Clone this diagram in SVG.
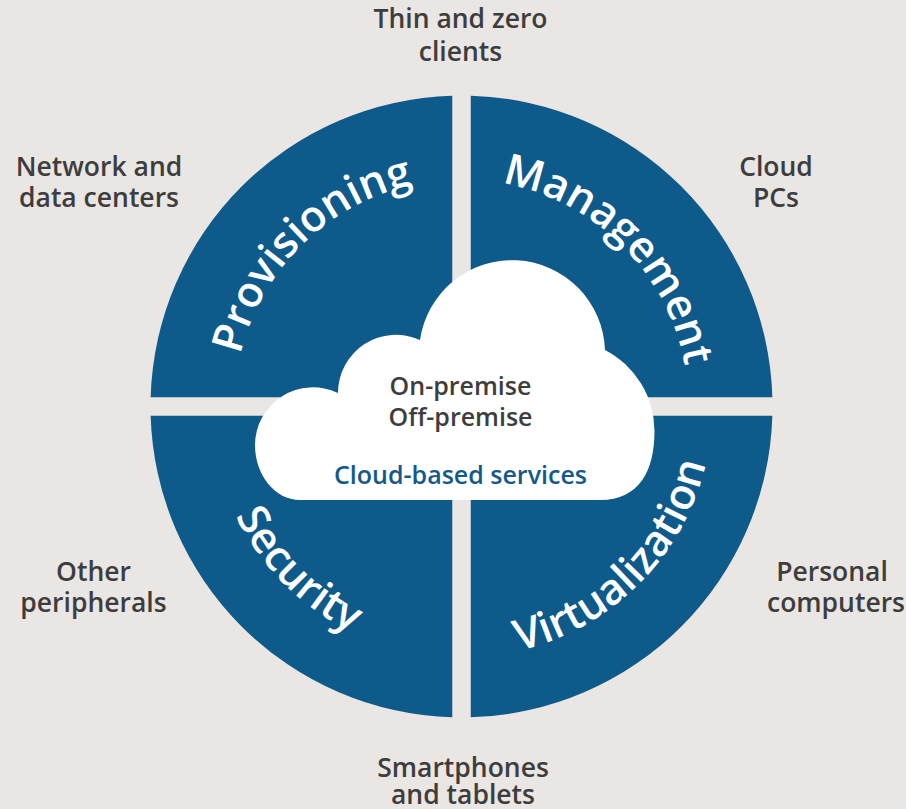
<svg xmlns="http://www.w3.org/2000/svg" width="906" height="809" viewBox="0 0 906 809">
<style>
.bg{fill:#e9e6e3}
.quad{fill:#0e5a8a}
.qlabel{font-family:"Open Sans","Liberation Sans",sans-serif;font-weight:600;font-size:43px;fill:#ffffff}
.outer{font-family:"Open Sans","Liberation Sans",sans-serif;font-weight:600;font-size:26.5px;fill:#3d3d3d;text-anchor:middle}
.cloudtxt{font-family:"Open Sans","Liberation Sans",sans-serif;font-weight:600;font-size:25px;fill:#3d3d3d;text-anchor:middle}
.cloudblue{fill:#15598b}
</style>
<defs>
<path id="pProv" d="M 234.5,406.5 A 227 227 0 0 1 461.5,179.5"/>
<path id="pMgmt" d="M 461.5,179.5 A 227 227 0 0 1 688.5,406.5"/>
<path id="pSec" d="M 210.5,406.5 A 251 251 0 0 0 461.5,657.5"/>
<path id="pVirt" d="M 461.5,657.5 A 251 251 0 0 0 712.5,406.5"/>
</defs>
<rect class="bg" x="0" y="0" width="906" height="809"/>
<g id="connectors"/>
<g id="provisioning">
<path class="quad" d="M 452.25,397.25 L 452.25,95.64 A 311 311 0 0 0 150.64,397.25 Z"/>
<text class="qlabel"><textPath href="#pProv" startOffset="50.5%" text-anchor="middle">Provisioning</textPath></text>
</g>
<g id="management">
<path class="quad" d="M 470.75,397.25 L 772.36,397.25 A 311 311 0 0 0 470.75,95.64 Z"/>
<text class="qlabel"><textPath href="#pMgmt" startOffset="50%" text-anchor="middle">Management</textPath></text>
</g>
<g id="security">
<path class="quad" d="M 452.25,415.75 L 150.64,415.75 A 311 311 0 0 0 452.25,717.36 Z"/>
<text class="qlabel"><textPath href="#pSec" startOffset="50%" text-anchor="middle">Security</textPath></text>
</g>
<g id="virtualization">
<path class="quad" d="M 470.75,415.75 L 470.75,717.36 A 311 311 0 0 0 772.36,415.75 Z"/>
<text class="qlabel"><textPath href="#pVirt" startOffset="50%" text-anchor="middle">Virtualization</textPath></text>
</g>
<g id="cloud">
<path fill="#ffffff" d="M 300,500 C 275,500 255,475 255,445 A 58 58 0 0 1 338,393 A 58 58 0 0 1 420,340 A 93 93 0 0 1 605,350 A 91.5 91.5 0 0 1 654.5,431 C 654.5,470 640,500 600,500 Z"/>
<text class="cloudtxt" x="460.5" y="395">On-premise</text>
<text class="cloudtxt" x="460.5" y="425.5">Off-premise</text>
<text class="cloudtxt cloudblue" x="460.5" y="484">Cloud-based services</text>
</g>
<g id="thin-zero-clients">
<text class="outer" x="460.5" y="28">Thin and zero</text>
<text class="outer" x="460.5" y="61">clients</text>
</g>
<g id="network-data-centers">
<text class="outer" x="99" y="176">Network and</text>
<text class="outer" x="99" y="207">data centers</text>
</g>
<g id="cloud-pcs">
<text class="outer" x="776" y="176">Cloud</text>
<text class="outer" x="776" y="207">PCs</text>
</g>
<g id="other-peripherals">
<text class="outer" x="93.5" y="581">Other</text>
<text class="outer" x="93.5" y="612">peripherals</text>
</g>
<g id="personal-computers">
<text class="outer" x="832" y="581">Personal</text>
<text class="outer" x="836" y="612">computers</text>
</g>
<g id="smartphones-tablets">
<text class="outer" x="463" y="777">Smartphones</text>
<text class="outer" x="463" y="804">and tablets</text>
</g>
</svg>
